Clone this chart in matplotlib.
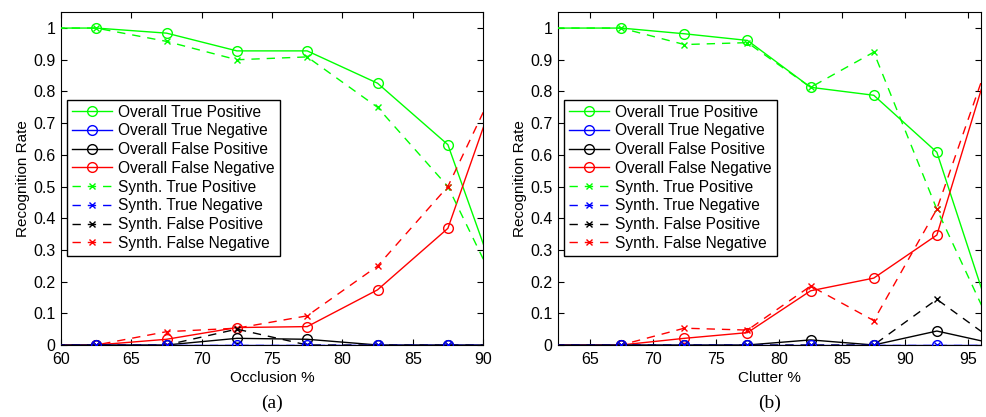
import matplotlib
matplotlib.use("Agg")
import matplotlib.pyplot as plt

# occlusion chart (a)
occ_x = [57.5, 62.5, 67.5, 72.5, 77.5, 82.5, 87.5, 92.5]
occ_tp = [1, 1, 0.984, 0.928, 0.928, 0.826, 0.632, 0.01]
occ_tn = [0, 0, 0, 0, 0, 0, 0, 0]
occ_fp = [0, 0, 0, 0.021, 0.018, 0, 0, 0]
occ_fn = [0, 0, 0.018, 0.055, 0.058, 0.174, 0.368, 1.0]
occ_syn_tp = [1, 1, 0.958, 0.9, 0.909, 0.75, 0.5, 0.045]
occ_syn_tn = [0, 0, 0, 0, 0, 0, 0, 0]
occ_syn_fp = [0, 0, 0, 0.05, 0, 0, 0, 0]
occ_syn_fn = [0, 0, 0.042, 0.053, 0.092, 0.249, 0.5, 0.966]

# clutter chart (b)
clu_x = [57.5, 67.5, 72.5, 77.5, 82.5, 87.5, 92.5, 97.5]
clu_tp = [1, 1, 0.982, 0.961, 0.813, 0.788, 0.608, 0.0]
clu_tn = [0, 0, 0, 0, 0, 0, 0, 0]
clu_fp = [0, 0, 0, 0, 0.016, 0, 0.044, 0.0]
clu_fn = [0, 0, 0.021, 0.039, 0.171, 0.211, 0.347, 1.0]
clu_syn_tp = [1, 1, 0.948, 0.954, 0.813, 0.924, 0.428, 0.0]
clu_syn_tn = [0, 0, 0, 0, 0, 0, 0, 0]
clu_syn_fp = [0, 0, 0, 0, 0, 0, 0.144, 0.0]
clu_syn_fn = [0, 0, 0.053, 0.047, 0.186, 0.077, 0.429, 1.0]

labels = ["Overall True Positive", "Overall True Negative",
          "Overall False Positive", "Overall False Negative",
          "Synth. True Positive", "Synth. True Negative",
          "Synth. False Positive", "Synth. False Negative"]
colors = ["#00ff00", "#0000ff", "black", "red"]

plt.rcParams["font.family"] = ["Liberation Sans", "DejaVu Sans"]

fig = plt.figure(figsize=(9.86, 4.17), dpi=100)
ax1 = fig.add_axes([0.0619, 0.1727, 0.428, 0.798])
ax2 = fig.add_axes([0.566, 0.1727, 0.429, 0.798])


def draw(ax, x, overall, synth, xlim, xticks, xlabel, tag):
    zs = [3, 5, 4, 3]
    for i in range(4):
        ax.plot(x, overall[i], color=colors[i], lw=1.0, marker="o", ms=7,
                mfc="none", mew=1.0, label=labels[i], zorder=zs[i])
    for i in range(4):
        ax.plot(x, synth[i], color=colors[i], lw=1.0, ls=(0, (6, 5)), marker="x",
                ms=4.5, mew=1.0, label=labels[4 + i], zorder=zs[i])
    ax.set_xlim(*xlim)
    ax.set_ylim(0, 1.05)
    ax.set_xticks(xticks)
    ax.set_yticks([i / 10 for i in range(11)])
    ax.set_yticklabels(["0", "0.1", "0.2", "0.3", "0.4", "0.5", "0.6", "0.7", "0.8", "0.9", "1"])
    ax.tick_params(direction="in", top=True, right=True, labelsize=11.5, length=4)
    ax.tick_params(axis="x", pad=5)
    ax.tick_params(axis="y", pad=4)
    ax.set_xlabel(xlabel, fontsize=11, labelpad=3)
    ax.set_ylabel("Recognition Rate", fontsize=11, labelpad=2)
    leg = ax.legend(loc="upper left", bbox_to_anchor=(0.014, 0.736), fontsize=11.2,
                    handlelength=2.6, handletextpad=0.4, labelspacing=0.24,
                    borderpad=0.3, borderaxespad=0.0, fancybox=False,
                    framealpha=1, edgecolor="black")
    leg.get_frame().set_linewidth(1.0)
    ax.text(0.5, -0.175, tag, transform=ax.transAxes, ha="center", va="center",
            fontsize=14, family="Liberation Serif")


draw(ax1, occ_x, [occ_tp, occ_tn, occ_fp, occ_fn],
     [occ_syn_tp, occ_syn_tn, occ_syn_fp, occ_syn_fn],
     (60, 90), [60, 65, 70, 75, 80, 85, 90], "Occlusion %", "(a)")
draw(ax2, clu_x, [clu_tp, clu_tn, clu_fp, clu_fn],
     [clu_syn_tp, clu_syn_tn, clu_syn_fp, clu_syn_fn],
     (62.5, 96), [65, 70, 75, 80, 85, 90, 95], "Clutter %", "(b)")

fig.savefig("out.png", dpi=100)
